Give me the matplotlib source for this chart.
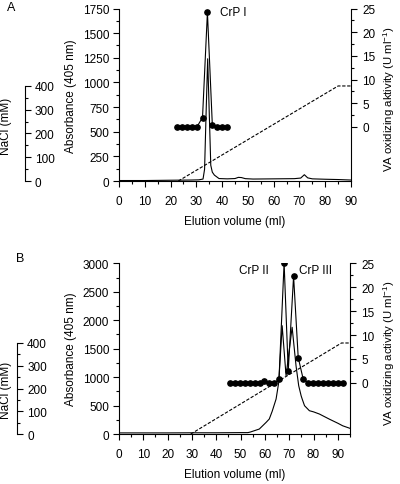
import numpy as np
import matplotlib
matplotlib.use("Agg")
import matplotlib.pyplot as plt
from matplotlib.ticker import MultipleLocator, FixedLocator

plt.rcParams['font.family'] = ['Liberation Sans', 'DejaVu Sans']
plt.rcParams['font.size'] = 8.5
plt.rcParams['mathtext.default'] = 'regular'

# ---- panel A data ----
vol_a = [0, 10, 20, 28, 31, 32.6, 33.2, 33.8, 34.4, 35.0, 35.6, 36.2, 37, 38.8, 42, 45, 46.3, 47.5, 49, 52,
         60, 68, 70.5, 71.9, 73.2, 75, 80, 85, 90]
abs_a = [5, 5, 8, 10, 12, 20, 120, 700, 1240, 700, 160, 90, 60, 25, 22, 25, 37, 35, 24, 20,
         22, 24, 30, 64, 32, 22, 18, 15, 10]
act_vol_a = [22.4, 24.4, 26.3, 28.2, 30.2, 32.4, 34.3, 36.2, 38.1, 40.1, 42.0]
act_a = [0, 0, 0, 0, 0, 2.0, 24.2, 0.5, 0, 0, 0]
nacl_vol_a = [23, 85, 90]
nacl_a = [0, 400, 400]

# ---- panel B data ----
vol_b = [0, 10, 20, 30, 40, 50, 53, 54, 57.7, 60.5, 61.8, 63.0, 64.6, 65.7, 67.1, 68.7, 71.2, 72.8, 73.9,
         74.9, 75.3, 76.3, 78.3, 80, 82.4, 86.6, 90, 92, 95]
abs_b = [20, 20, 20, 22, 22, 25, 25, 35, 88, 205, 264, 400, 615, 909, 1904, 1025, 1876, 1201, 850,
         673, 620, 498, 410, 390, 352, 260, 190, 145, 100]
act_vol_b = [45.6, 47.6, 49.7, 51.8, 53.8, 55.9, 58.0, 59.6, 61.7, 63.8, 65.8, 67.9, 69.6, 71.8,
             73.7, 75.7, 77.8, 79.9, 81.9, 84.0, 86.1, 88.1, 90.2, 92.3]
act_b = [0, 0, 0, 0, 0, 0, 0, 0.35, -0.1, -0.1, 0.8, 25.1, 2.5, 22.3,
         5.3, 0.9, 0, 0, 0, 0, 0, 0, 0, 0]
nacl_vol_b = [29.5, 91.5, 95]
nacl_b = [0, 400, 400]

fig = plt.figure(figsize=(4.0, 4.85), dpi=100)


def panel(rect, vol, ab, avol, act, nvol, nacl, xmax, ymax, ystep, rlim, nlim, spine_x, rlabel, rlab_x, nacl_y):
    ax = fig.add_axes(rect)
    ax.plot(vol, ab, color='black', lw=0.8)
    ax.set_xlim(0, xmax)
    ax.set_ylim(0, ymax)
    ax.xaxis.set_minor_locator(MultipleLocator(5))
    ax.set_xticks(range(0, 91, 10))
    ax.yaxis.set_major_locator(MultipleLocator(ystep))
    ax.yaxis.set_minor_locator(MultipleLocator(ystep / 2))
    ax.spines['top'].set_visible(False)
    ax.spines['right'].set_visible(False)
    ax.tick_params(which='major', length=4, width=0.8, pad=3)
    ax.tick_params(which='minor', length=2, width=0.8)
    ax.tick_params(axis='x', which='major', pad=6)
    ax.set_xlabel('Elution volume (ml)', labelpad=6)
    ax.set_ylabel('Absorbance (405 nm)', labelpad=4)

    ax2 = ax.twinx()
    ax2.plot(avol, act, color='black', lw=0.8, marker='o', ms=3.8)
    ax2.set_ylim(*rlim)
    ax2.yaxis.set_major_locator(FixedLocator(range(0, 26, 5)))
    ax2.yaxis.set_minor_locator(FixedLocator(np.arange(2.5, 25, 5)))
    for s in ['top', 'left', 'bottom']:
        ax2.spines[s].set_visible(False)
    ax2.tick_params(which='major', length=4, width=0.8, pad=4)
    ax2.tick_params(which='minor', length=2, width=0.8)
    ax2.set_ylabel(rlabel, fontsize=8.2)
    ax2.yaxis.set_label_coords(rlab_x, 0.48)

    ax3 = ax.twinx()
    ax3.plot(nvol, nacl, color='black', lw=0.8, ls=(0, (3, 1.5)))
    ax3.set_ylim(*nlim)
    for s in ['top', 'left', 'bottom']:
        ax3.spines[s].set_visible(False)
    ax3.spines['right'].set_position(('axes', spine_x))
    ax3.spines['right'].set_bounds(0, 400)
    ax3.yaxis.set_major_locator(FixedLocator(range(0, 401, 100)))
    ax3.yaxis.set_minor_locator(FixedLocator(range(50, 400, 100)))
    ax3.tick_params(which='major', length=4, width=0.8, pad=3)
    ax3.tick_params(which='minor', length=2, width=0.8)
    fig.text(0.0, 1 - nacl_y / 485, 'NaCl (mM)', rotation=90, ha='left', va='center')
    return ax, ax2


axA, axA2 = panel([0.2975, 0.6247, 0.58, 0.3557], vol_a, abs_a, act_vol_a, act_a,
                  nacl_vol_a, nacl_a, 90, 1750, 250, (-11.4, 25), (0, 726), -0.405,
                  'VA oxidizing aktivity (U ml$^{-1}$)', 1.13, 126)
axA.text(39.2, 1711, 'CrP I', va='center', ha='left')

axB, axB2 = panel([0.2975, 0.103, 0.5775, 0.352], vol_b, abs_b, act_vol_b, act_b,
                  nacl_vol_b, nacl_b, 95, 3000, 500, (-10.7, 25), (0, 750), -0.44,
                  'VA oxidizing activity (U ml$^{-1}$)', 1.135, 390)
axB.text(49.5, 2890, 'CrP II', va='center', ha='left')
axB.text(73.9, 2890, 'CrP III', va='center', ha='left')

fig.text(0.018, 1 - 8 / 485, 'A', fontsize=9, va='center', ha='left')
fig.text(0.04, 1 - 259 / 485, 'B', fontsize=9, va='center', ha='left')

plt.savefig('out.png', dpi=100)
